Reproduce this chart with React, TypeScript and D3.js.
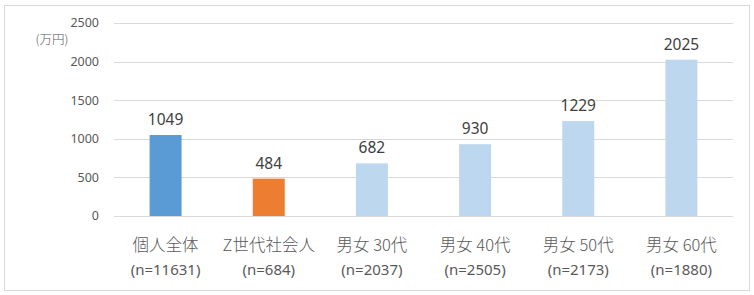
import React from "react";
import * as d3 from "d3";

const categories = ["個人全体", "Z世代社会人", "男女 30代", "男女 40代", "男女 50代", "男女 60代"];
const sampleSizes = ["(n=11631)", "(n=684)", "(n=2037)", "(n=2505)", "(n=2173)", "(n=1880)"];
const values = [1049, 484, 682, 930, 1229, 2025];
const barColors = ["#5B9BD5", "#ED7D31", "#BDD7EE", "#BDD7EE", "#BDD7EE", "#BDD7EE"];
const yTicks = [0, 500, 1000, 1500, 2000, 2500];
const unitLabel = "(万円)";

const W = 754;
const H = 295;
const plot = { left: 114, right: 733, top: 23, bottom: 216 };

export default function App() {
  const x = d3.scaleBand<string>().domain(categories).range([plot.left, plot.right]).paddingInner(0.69).paddingOuter(0.345);
  const y = d3.scaleLinear().domain([0, 2500]).range([plot.bottom, plot.top]);
  const font = "'Noto Sans', 'Noto Sans CJK JP', sans-serif";
  return (
    <svg width={W} height={H} style={{ position: "absolute", left: 0, top: 0, background: "#fff" }} fontFamily={font}>
      <rect x={4.5} y={5.5} width={745} height={285} fill="#fff" stroke="#D9D9D9" strokeWidth={1} />
      {yTicks.map((t) => (
        <g key={t}>
          <line x1={plot.left} x2={plot.right} y1={Math.round(y(t)) + 0.5} y2={Math.round(y(t)) + 0.5} stroke="#D9D9D9" strokeWidth={1} />
          <text x={99} y={y(t)} dy="0.35em" textAnchor="end" fontSize={12.5} fill="#595959">{t}</text>
        </g>
      ))}
      <text x={52} y={40} dy="0.35em" textAnchor="middle" fontSize={12.5} fontWeight={300} fill="#595959" fontFamily="'Noto Sans CJK JP', sans-serif">{unitLabel}</text>
      {categories.map((c, i) => {
        const bx = x(c)!;
        const bw = x.bandwidth();
        const cx = bx + bw / 2;
        return (
          <g key={c}>
            <rect x={bx} y={y(values[i])} width={bw} height={plot.bottom - y(values[i])} fill={barColors[i]} />
            <text x={cx} y={y(values[i]) - 10} textAnchor="middle" fontSize={15.5} fill="#404040">{values[i]}</text>
            <text x={cx} y={245} dy="0.35em" textAnchor="middle" fontSize={16.5} fontWeight={300} fill="#595959" fontFamily="'Noto Sans CJK JP', sans-serif">{c}</text>
            <text x={cx} y={270} dy="0.35em" textAnchor="middle" fontSize={15} fill="#595959">{sampleSizes[i]}</text>
          </g>
        );
      })}
    </svg>
  );
}
